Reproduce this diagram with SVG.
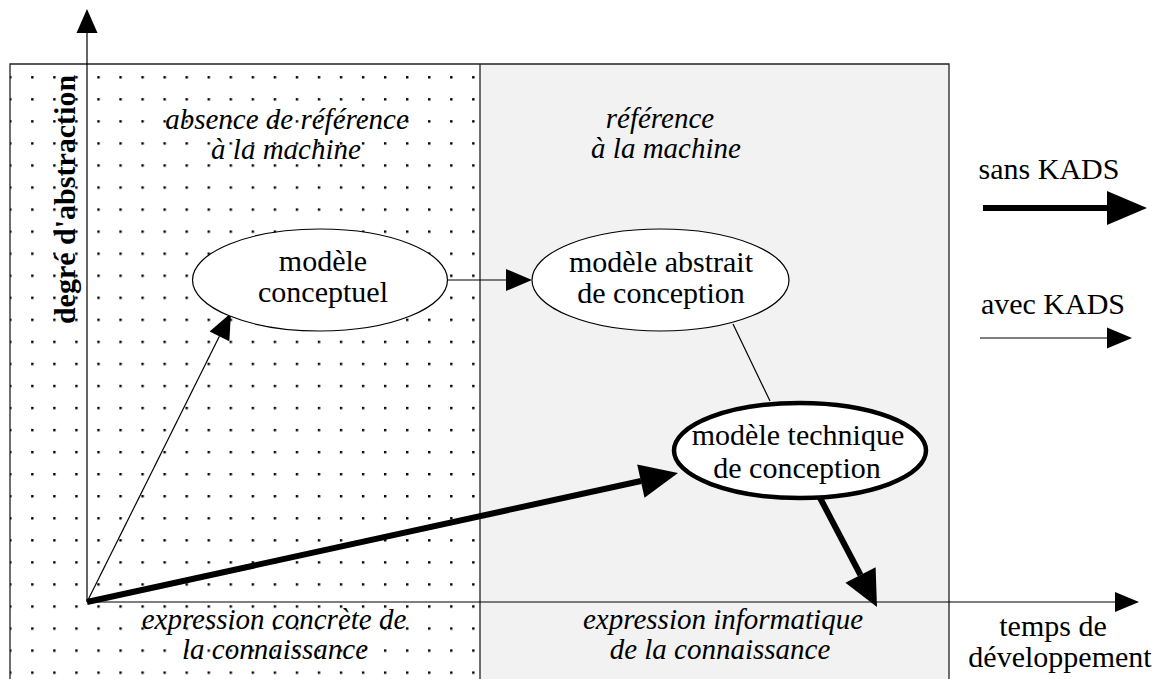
<svg xmlns="http://www.w3.org/2000/svg" width="1156" height="679" viewBox="0 0 1156 679" font-family="'Liberation Serif', 'Times New Roman', serif">
<style>
text{font-family:'Liberation Serif','Times New Roman',serif;font-size:30px;fill:#000;text-anchor:middle}
.it{font-style:italic;font-size:29px}
.frame{fill:none;stroke:#222;stroke-width:1.3}
.thin{fill:none;stroke:#000;stroke-width:1.2}
.thick{fill:none;stroke:#000;stroke-width:6}
.head{fill:#000;stroke:none}
.node{fill:#fff;stroke:#000;stroke-width:1.2}
.node2{fill:#fff;stroke:#000;stroke-width:4.5}
</style>
<defs>
<pattern id="dots" x="9.1" y="76.1" width="22.05" height="22.05" patternUnits="userSpaceOnUse">
<rect x="0" y="0" width="2.4" height="2.4" fill="#000"/>
</pattern>
</defs>
<rect width="1156" height="679" fill="#fff"/>
<g id="zones">
<rect x="10" y="64" width="470" height="620" fill="url(#dots)"/>
<rect x="480" y="64" width="469" height="620" fill="#f2f2f2"/>
<path class="frame" d="M10,684 V64 H949 V684 M480,64 V684"/>
</g>
<g id="zone-labels">
<text class="it" x="287" y="129">absence de référence</text>
<text class="it" x="286" y="159">à la machine</text>
<text class="it" x="660" y="128">référence</text>
<text class="it" x="666" y="158">à la machine</text>
<text class="it" x="274" y="629">expression concrète de</text>
<text class="it" x="275" y="659">la connaissance</text>
<text class="it" x="723" y="629">expression informatique</text>
<text class="it" x="720" y="659">de la connaissance</text>
</g>
<g id="axes">
<path class="thin" d="M87,602 V33 M87,602 H1115"/>
<polygon class="head" points="76.5,33 87,9 97.5,33"/>
<polygon class="head" points="1115,592 1139,602 1115,612"/>
<text x="0" y="0" transform="translate(75,199.5) rotate(-90)" font-weight="bold">degré d'abstraction</text>
<text x="1053" y="636">temps de</text>
<text x="1060" y="667">développement</text>
</g>
<g id="connectors">
<path class="thin" d="M87,602 L219.4,336.3"/>
<polygon class="head" points="209.6,331.4 231,313 229.3,341.2"/>
<path class="thin" d="M447,280 H506"/>
<polygon class="head" points="506,269 532,280 506,291"/>
<path class="thin" d="M733,324 L770,401"/>
<path class="thick" d="M87,602 L641,481"/>
<polygon class="head" points="637.2,464.6 678,473 644.5,497.8"/>
<path class="thick" d="M818,494 L860.5,575"/>
<polygon class="head" points="875.6,567.2 877,607 845.4,582.8"/>
</g>
<g id="n-conceptuel">
<ellipse class="node" cx="320" cy="280" rx="127.5" ry="51"/>
<text x="323" y="271">modèle</text>
<text x="323" y="302">conceptuel</text>
</g>
<g id="n-abstrait">
<ellipse class="node" cx="660.5" cy="280" rx="128.5" ry="51"/>
<text x="661" y="272">modèle abstrait</text>
<text x="661" y="303">de conception</text>
</g>
<g id="n-technique">
<ellipse class="node2" cx="800" cy="450.5" rx="126" ry="47.5"/>
<text x="798" y="445">modèle technique</text>
<text x="797" y="478">de conception</text>
</g>
<g id="legend">
<text x="1049" y="179">sans KADS</text>
<path class="thick" d="M983,208 H1108" stroke-width="5.5"/>
<polygon class="head" points="1107,191 1147,208 1107,225"/>
<text x="1053" y="314">avec KADS</text>
<path class="thin" d="M980,338 H1108"/>
<polygon class="head" points="1107,327.5 1132,338 1107,348.5"/>
</g>
</svg>
